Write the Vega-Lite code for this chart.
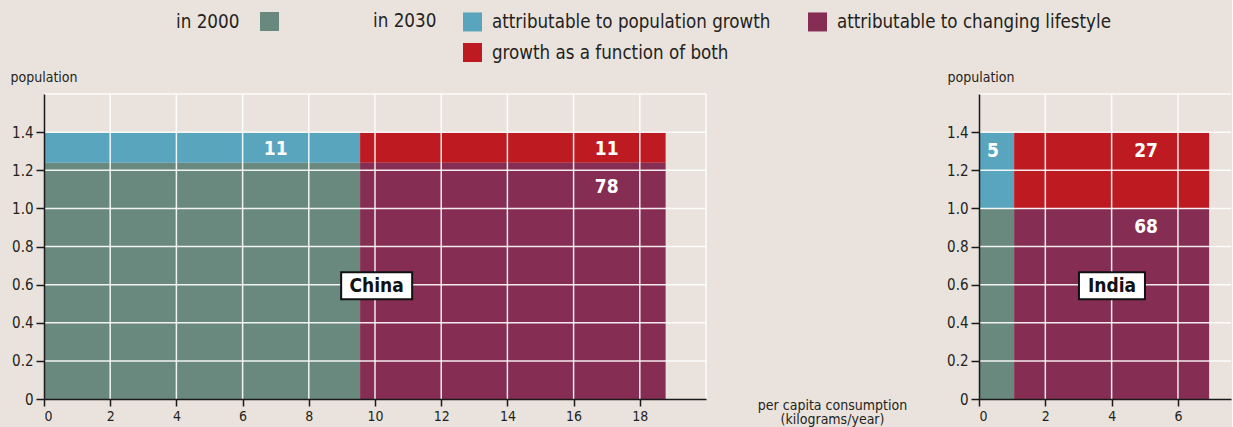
{
  "$schema": "https://vega.github.io/schema/vega-lite/v6.json",
  "background": "#EAE3DD",
  "padding": {"left": 10, "top": 12, "right": 0, "bottom": 0},
  "bounds": "flush",
  "spacing": 273,
  "config": {
    "font": "DejaVu Sans Condensed",
    "view": {"stroke": null},
    "axis": {
      "domainColor": "#1a1a1a", "domainWidth": 1.5,
      "tickColor": "#1a1a1a", "tickWidth": 1.5, "tickSize": 8, "tickCount": 30,
      "labelFontSize": 15, "labelColor": "#231F20", "labelPadding": 3, "labelOverlap": false,
      "grid": false,
      "titleFontWeight": "normal", "titleFontSize": 14, "titleColor": "#231F20"
    }
  },
  "resolve": {"scale": {"color": "shared", "fill": "shared"}},
  "datasets": {
    "rects": [
      {"country": "China", "year": "2000", "category": "in 2000", "x0": 0, "x1": 9.55, "y0": 0, "y1": 1.24},
      {"country": "China", "year": "2030", "category": "attributable to population growth", "x0": 0, "x1": 9.55, "y0": 1.24, "y1": 1.4},
      {"country": "China", "year": "2030", "category": "growth as a function of both", "x0": 9.55, "x1": 18.78, "y0": 1.24, "y1": 1.4},
      {"country": "China", "year": "2030", "category": "attributable to changing lifestyle", "x0": 9.55, "x1": 18.78, "y0": 0, "y1": 1.24},
      {"country": "India", "year": "2000", "category": "in 2000", "x0": 0, "x1": 1.06, "y0": 0, "y1": 1.0},
      {"country": "India", "year": "2030", "category": "attributable to population growth", "x0": 0, "x1": 1.06, "y0": 1.0, "y1": 1.4},
      {"country": "India", "year": "2030", "category": "growth as a function of both", "x0": 1.06, "x1": 6.94, "y0": 1.0, "y1": 1.4},
      {"country": "India", "year": "2030", "category": "attributable to changing lifestyle", "x0": 1.06, "x1": 6.94, "y0": 0, "y1": 1.0}
    ],
    "values": [
      {"country": "China", "label": "11", "x": 7.0, "y": 1.31},
      {"country": "China", "label": "11", "x": 17.0, "y": 1.31},
      {"country": "China", "label": "78", "x": 17.0, "y": 1.11},
      {"country": "India", "label": "5", "x": 0.42, "y": 1.3},
      {"country": "India", "label": "27", "x": 5.04, "y": 1.3},
      {"country": "India", "label": "68", "x": 5.04, "y": 0.9}
    ],
    "names": [
      {"country": "China", "x": 10.05, "y": 0.594},
      {"country": "India", "x": 4.01, "y": 0.594}
    ],
    "ygrid": [
      {"v": 0.2}, {"v": 0.4}, {"v": 0.6}, {"v": 0.8}, {"v": 1.0}, {"v": 1.2}, {"v": 1.4}, {"v": 1.6}
    ],
    "xgrid": [
      {"country": "China", "v": 2}, {"country": "China", "v": 4}, {"country": "China", "v": 6},
      {"country": "China", "v": 8}, {"country": "China", "v": 10}, {"country": "China", "v": 12},
      {"country": "China", "v": 14}, {"country": "China", "v": 16}, {"country": "China", "v": 18},
      {"country": "China", "v": 20},
      {"country": "India", "v": 2}, {"country": "India", "v": 4}, {"country": "India", "v": 6}
    ]
  },
  "hconcat": [
    {
      "width": 662, "height": 305,
      "layer": [
        {
          "data": {"name": "rects"},
          "transform": [{"filter": "datum.country == 'China' && datum.year == '2000'"}],
          "mark": {"type": "rect"},
          "encoding": {
            "x": {"field": "x0", "type": "quantitative", "scale": {"domain": [0, 20], "nice": false},
              "axis": {"values": [0, 2, 4, 6, 8, 10, 12, 14, 16, 18, 20], "zindex": 1, "labelPadding": 3, "tickSize": 7, "labelFontSize": 14,
                "labelExpr": "datum.value > 19 ? '' : format(datum.value, 'd')",
                "tickOpacity": {"condition": {"test": "datum.value > 19", "value": 0}, "value": 1},
                "title": ["per capita consumption", "(kilograms/year)"],
                "titleX": 788, "titleY": -1, "titleBaseline": "top", "titleAlign": "center", "titleLineHeight": 14.5}},
            "x2": {"field": "x1"},
            "y": {"field": "y0", "type": "quantitative", "scale": {"domain": [0, 1.6], "nice": false},
              "axis": {"values": [0, 0.2, 0.4, 0.6, 0.8, 1.0, 1.2, 1.4, 1.6], "zindex": 1,
                "labelExpr": "datum.value > 1.5 ? '' : (datum.value == 0 ? '0' : format(datum.value, '.1f'))",
                "tickOpacity": {"condition": {"test": "datum.value > 1.5", "value": 0}, "value": 1},
                "title": "population", "titleAngle": 0, "titleAlign": "left", "titleBaseline": "alphabetic",
                "titleX": -34, "titleY": -13}},
            "y2": {"field": "y1"},
            "fill": {"field": "category", "type": "nominal",
              "scale": {"domain": ["in 2000"], "range": ["#6A897E"]},
              "legend": {"title": "in 2000", "orient": "none", "legendX": 132, "legendY": -82,
                "titleOrient": "left", "titleFontSize": 18.7, "titleFontWeight": "normal", "titleColor": "#231F20",
                "titlePadding": 20, "symbolType": "square", "symbolSize": 361, "symbolStrokeWidth": 0,
                "symbolOpacity": 1, "labelExpr": "''", "labelFontSize": 1, "labelOffset": 0}}
          }
        },
        {
          "data": {"name": "rects"},
          "transform": [{"filter": "datum.country == 'China' && datum.year == '2030'"}],
          "mark": {"type": "rect"},
          "encoding": {
            "x": {"field": "x0", "type": "quantitative"},
            "x2": {"field": "x1"},
            "y": {"field": "y0", "type": "quantitative"},
            "y2": {"field": "y1"},
            "color": {"field": "category", "type": "nominal",
              "scale": {"domain": ["attributable to population growth", "growth as a function of both", "attributable to changing lifestyle"],
                "range": ["#59A5BE", "#BE1A22", "#852D52"]},
              "legend": {"title": "in 2030", "orient": "none", "legendX": 329, "legendY": -82,
                "titleOrient": "left", "titleAnchor": "start", "titleFontSize": 18.7, "titleFontWeight": "normal", "titleColor": "#231F20",
                "titlePadding": 26, "columns": 2, "columnPadding": 37, "rowPadding": 11,
                "symbolType": "square", "symbolSize": 361, "symbolStrokeWidth": 0, "symbolOpacity": 1,
                "labelFontSize": 18.6, "labelLimit": 400, "labelOffset": 10, "labelColor": "#231F20"}}
          }
        },
        {
          "data": {"name": "ygrid"},
          "mark": {"type": "rule", "color": "#ffffff", "strokeWidth": 1.5, "opacity": 0.9},
          "encoding": {"y": {"field": "v", "type": "quantitative"}}
        },
        {
          "data": {"name": "xgrid"},
          "transform": [{"filter": "datum.country == 'China'"}],
          "mark": {"type": "rule", "color": "#ffffff", "strokeWidth": 1.5, "opacity": 0.9},
          "encoding": {"x": {"field": "v", "type": "quantitative"}}
        },
        {
          "data": {"name": "values"},
          "transform": [{"filter": "datum.country == 'China'"}],
          "mark": {"type": "text", "fontWeight": "bold", "fontSize": 19, "color": "#ffffff", "align": "center", "baseline": "middle"},
          "encoding": {
            "x": {"field": "x", "type": "quantitative"},
            "y": {"field": "y", "type": "quantitative"},
            "text": {"field": "label"}
          }
        },
        {
          "data": {"name": "names"},
          "transform": [{"filter": "datum.country == 'China'"}],
          "mark": {"type": "point", "shape": "M-1,-0.38L1,-0.38L1,0.38L-1,0.38Z", "filled": true, "fill": "#ffffff",
            "stroke": "#111111", "strokeWidth": 2, "size": 5041, "opacity": 1},
          "encoding": {
            "x": {"field": "x", "type": "quantitative"},
            "y": {"field": "y", "type": "quantitative"}
          }
        },
        {
          "data": {"name": "names"},
          "transform": [{"filter": "datum.country == 'China'"}],
          "mark": {"type": "text", "fontWeight": "bold", "fontSize": 19, "color": "#111111", "align": "center", "baseline": "middle"},
          "encoding": {
            "x": {"field": "x", "type": "quantitative"},
            "y": {"field": "y", "type": "quantitative"},
            "text": {"field": "country"}
          }
        }
      ]
    },
    {
      "width": 252, "height": 305,
      "layer": [
        {
          "data": {"name": "rects"},
          "transform": [{"filter": "datum.country == 'India' && datum.year == '2000'"}],
          "mark": {"type": "rect"},
          "encoding": {
            "x": {"field": "x0", "type": "quantitative", "scale": {"domain": [0, 7.6], "nice": false},
              "axis": {"values": [0, 2, 4, 6], "title": null, "zindex": 1, "labelPadding": 3, "tickSize": 7, "labelFontSize": 14,
                "labelExpr": "format(datum.value, 'd')"}},
            "x2": {"field": "x1"},
            "y": {"field": "y0", "type": "quantitative", "scale": {"domain": [0, 1.6], "nice": false},
              "axis": {"values": [0, 0.2, 0.4, 0.6, 0.8, 1.0, 1.2, 1.4, 1.6], "zindex": 1,
                "labelExpr": "datum.value > 1.5 ? '' : (datum.value == 0 ? '0' : format(datum.value, '.1f'))",
                "tickOpacity": {"condition": {"test": "datum.value > 1.5", "value": 0}, "value": 1},
                "title": "population", "titleAngle": 0, "titleAlign": "left", "titleBaseline": "alphabetic",
                "titleX": -32, "titleY": -13}},
            "y2": {"field": "y1"},
            "fill": {"field": "category", "type": "nominal"}
          }
        },
        {
          "data": {"name": "rects"},
          "transform": [{"filter": "datum.country == 'India' && datum.year == '2030'"}],
          "mark": {"type": "rect"},
          "encoding": {
            "x": {"field": "x0", "type": "quantitative"},
            "x2": {"field": "x1"},
            "y": {"field": "y0", "type": "quantitative"},
            "y2": {"field": "y1"},
            "color": {"field": "category", "type": "nominal"}
          }
        },
        {
          "data": {"name": "ygrid"},
          "mark": {"type": "rule", "color": "#ffffff", "strokeWidth": 1.5, "opacity": 0.9},
          "encoding": {"y": {"field": "v", "type": "quantitative"}}
        },
        {
          "data": {"name": "xgrid"},
          "transform": [{"filter": "datum.country == 'India'"}],
          "mark": {"type": "rule", "color": "#ffffff", "strokeWidth": 1.5, "opacity": 0.9},
          "encoding": {"x": {"field": "v", "type": "quantitative"}}
        },
        {
          "data": {"name": "values"},
          "transform": [{"filter": "datum.country == 'India'"}],
          "mark": {"type": "text", "fontWeight": "bold", "fontSize": 19, "color": "#ffffff", "align": "center", "baseline": "middle"},
          "encoding": {
            "x": {"field": "x", "type": "quantitative"},
            "y": {"field": "y", "type": "quantitative"},
            "text": {"field": "label"}
          }
        },
        {
          "data": {"name": "names"},
          "transform": [{"filter": "datum.country == 'India'"}],
          "mark": {"type": "point", "shape": "M-1,-0.41L1,-0.41L1,0.41L-1,0.41Z", "filled": true, "fill": "#ffffff",
            "stroke": "#111111", "strokeWidth": 2, "size": 4356, "opacity": 1},
          "encoding": {
            "x": {"field": "x", "type": "quantitative"},
            "y": {"field": "y", "type": "quantitative"}
          }
        },
        {
          "data": {"name": "names"},
          "transform": [{"filter": "datum.country == 'India'"}],
          "mark": {"type": "text", "fontWeight": "bold", "fontSize": 19, "color": "#111111", "align": "center", "baseline": "middle"},
          "encoding": {
            "x": {"field": "x", "type": "quantitative"},
            "y": {"field": "y", "type": "quantitative"},
            "text": {"field": "country"}
          }
        }
      ]
    }
  ]
}
